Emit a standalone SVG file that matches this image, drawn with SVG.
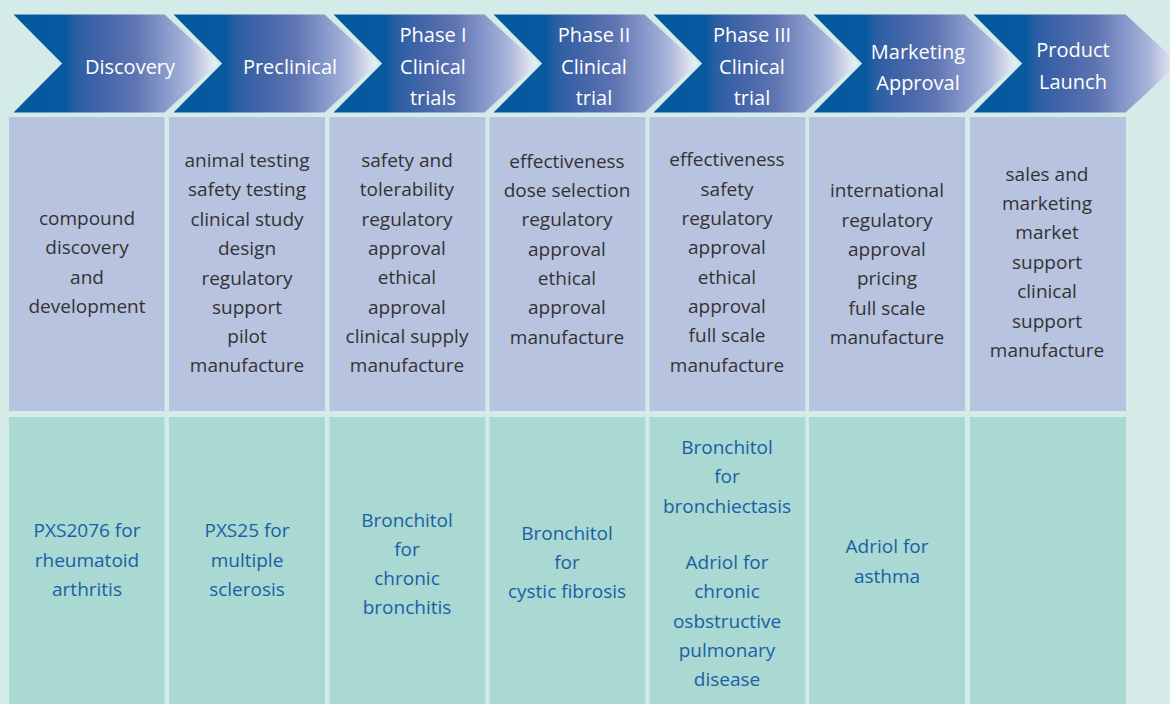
<svg xmlns="http://www.w3.org/2000/svg" width="1170" height="704" viewBox="0 0 1170 704">
<defs>
<linearGradient id="chev" x1="0" y1="0" x2="1" y2="0">
<stop offset="0" stop-color="#02589e"/>
<stop offset="0.27" stop-color="#0a5aa0"/>
<stop offset="0.31" stop-color="#2a5ea4"/>
<stop offset="0.45" stop-color="#4566a8"/>
<stop offset="0.6" stop-color="#5f75b2"/>
<stop offset="0.72" stop-color="#8294c8"/>
<stop offset="0.85" stop-color="#aab5da"/>
<stop offset="0.95" stop-color="#dfe1f2"/>
<stop offset="1" stop-color="#f4f4fb"/>
</linearGradient>
<style>
.chev{fill:url(#chev);stroke:#d5ebe8;stroke-width:3;stroke-linejoin:miter}
.task{fill:#b8c3e0}
.prod{fill:#aad8d3}
.h{font-family:"Open Sans","Noto Sans",sans-serif;font-size:20px;fill:#ffffff;text-anchor:middle}
.t{font-family:"Open Sans","Noto Sans",sans-serif;font-size:19px;fill:#333333;text-anchor:middle}
.p{font-family:"Open Sans","Noto Sans",sans-serif;font-size:19px;fill:#1a5fa5;text-anchor:middle}
</style>
</defs>
<rect x="0" y="0" width="1170" height="704" fill="#d5ebe8"/>

<g id="stage-discovery">
<polygon class="chev" points="10,13 165,13 220,63.5 165,114 10,114 60,63.5"/>
<text class="h" x="130" y="74">Discovery</text>
</g>
<g id="stage-preclinical">
<polygon class="chev" points="170,13 325,13 380,63.5 325,114 170,114 220,63.5"/>
<text class="h" x="290" y="74">Preclinical</text>
</g>
<g id="stage-phase1">
<polygon class="chev" points="330,13 485,13 540,63.5 485,114 330,114 380,63.5"/>
<text class="h" x="433" y="42">Phase I</text>
<text class="h" x="433" y="74">Clinical</text>
<text class="h" x="433" y="105">trials</text>
</g>
<g id="stage-phase2">
<polygon class="chev" points="490,13 645,13 700,63.5 645,114 490,114 540,63.5"/>
<text class="h" x="594" y="42">Phase II</text>
<text class="h" x="594" y="74">Clinical</text>
<text class="h" x="594" y="105">trial</text>
</g>
<g id="stage-phase3">
<polygon class="chev" points="650,13 805,13 860,63.5 805,114 650,114 700,63.5"/>
<text class="h" x="752" y="42">Phase III</text>
<text class="h" x="752" y="74">Clinical</text>
<text class="h" x="752" y="105">trial</text>
</g>
<g id="stage-marketing">
<polygon class="chev" points="810,13 965,13 1020,63.5 965,114 810,114 860,63.5"/>
<text class="h" x="918" y="59">Marketing</text>
<text class="h" x="918" y="90">Approval</text>
</g>
<g id="stage-launch">
<polygon class="chev" points="970,13 1126,13 1181,63.5 1126,114 970,114 1020,63.5"/>
<text class="h" x="1073" y="57">Product</text>
<text class="h" x="1073" y="89">Launch</text>
</g>

<g id="tasks-discovery">
<rect class="task" x="9" y="117" width="155.5" height="294"/>
<text class="t" x="87" y="225">compound</text>
<text class="t" x="87" y="254">discovery</text>
<text class="t" x="87" y="284">and</text>
<text class="t" x="87" y="313">development</text>
</g>
<g id="tasks-preclinical">
<rect class="task" x="169" y="117" width="156" height="294"/>
<text class="t" x="247" y="167">animal testing</text>
<text class="t" x="247" y="196">safety testing</text>
<text class="t" x="247" y="226">clinical study</text>
<text class="t" x="247" y="255">design</text>
<text class="t" x="247" y="285">regulatory</text>
<text class="t" x="247" y="314">support</text>
<text class="t" x="247" y="343">pilot</text>
<text class="t" x="247" y="372">manufacture</text>
</g>
<g id="tasks-phase1">
<rect class="task" x="329.5" y="117" width="156" height="294"/>
<text class="t" x="407" y="167">safety and</text>
<text class="t" x="407" y="196">tolerability</text>
<text class="t" x="407" y="226">regulatory</text>
<text class="t" x="407" y="255">approval</text>
<text class="t" x="407" y="284">ethical</text>
<text class="t" x="407" y="314">approval</text>
<text class="t" x="407" y="343">clinical supply</text>
<text class="t" x="407" y="372">manufacture</text>
</g>
<g id="tasks-phase2">
<rect class="task" x="489.5" y="117" width="156" height="294"/>
<text class="t" x="567" y="168">effectiveness</text>
<text class="t" x="567" y="197">dose selection</text>
<text class="t" x="567" y="226">regulatory</text>
<text class="t" x="567" y="256">approval</text>
<text class="t" x="567" y="285">ethical</text>
<text class="t" x="567" y="314">approval</text>
<text class="t" x="567" y="344">manufacture</text>
</g>
<g id="tasks-phase3">
<rect class="task" x="649.5" y="117" width="156" height="294"/>
<text class="t" x="727" y="166">effectiveness</text>
<text class="t" x="727" y="196">safety</text>
<text class="t" x="727" y="225">regulatory</text>
<text class="t" x="727" y="254">approval</text>
<text class="t" x="727" y="284">ethical</text>
<text class="t" x="727" y="313">approval</text>
<text class="t" x="727" y="342">full scale</text>
<text class="t" x="727" y="372">manufacture</text>
</g>
<g id="tasks-marketing">
<rect class="task" x="809" y="117" width="156" height="294"/>
<text class="t" x="887" y="197">international</text>
<text class="t" x="887" y="227">regulatory</text>
<text class="t" x="887" y="256">approval</text>
<text class="t" x="887" y="285">pricing</text>
<text class="t" x="887" y="315">full scale</text>
<text class="t" x="887" y="344">manufacture</text>
</g>
<g id="tasks-launch">
<rect class="task" x="970" y="117" width="156" height="294"/>
<text class="t" x="1047" y="181">sales and</text>
<text class="t" x="1047" y="210">marketing</text>
<text class="t" x="1047" y="239">market</text>
<text class="t" x="1047" y="269">support</text>
<text class="t" x="1047" y="298">clinical</text>
<text class="t" x="1047" y="328">support</text>
<text class="t" x="1047" y="357">manufacture</text>
</g>

<g id="products-discovery">
<rect class="prod" x="9" y="417" width="155.5" height="287"/>
<text class="p" x="87" y="537">PXS2076 for</text>
<text class="p" x="87" y="567">rheumatoid</text>
<text class="p" x="87" y="596">arthritis</text>
</g>
<g id="products-preclinical">
<rect class="prod" x="169" y="417" width="156" height="287"/>
<text class="p" x="247" y="537">PXS25 for</text>
<text class="p" x="247" y="567">multiple</text>
<text class="p" x="247" y="596">sclerosis</text>
</g>
<g id="products-phase1">
<rect class="prod" x="329.5" y="417" width="156" height="287"/>
<text class="p" x="407" y="527">Bronchitol</text>
<text class="p" x="407" y="556">for</text>
<text class="p" x="407" y="585">chronic</text>
<text class="p" x="407" y="614">bronchitis</text>
</g>
<g id="products-phase2">
<rect class="prod" x="489.5" y="417" width="156" height="287"/>
<text class="p" x="567" y="540">Bronchitol</text>
<text class="p" x="567" y="569">for</text>
<text class="p" x="567" y="598">cystic fibrosis</text>
</g>
<g id="products-phase3">
<rect class="prod" x="649.5" y="417" width="156" height="287"/>
<text class="p" x="727" y="454">Bronchitol</text>
<text class="p" x="727" y="483">for</text>
<text class="p" x="727" y="513">bronchiectasis</text>
<text class="p" x="727" y="569">Adriol for</text>
<text class="p" x="727" y="598">chronic</text>
<text class="p" x="727" y="628">osbstructive</text>
<text class="p" x="727" y="657">pulmonary</text>
<text class="p" x="727" y="686">disease</text>
</g>
<g id="products-marketing">
<rect class="prod" x="809" y="417" width="156" height="287"/>
<text class="p" x="887" y="553">Adriol for</text>
<text class="p" x="887" y="583">asthma</text>
</g>
<g id="products-launch">
<rect class="prod" x="970" y="417" width="156" height="287"/>
</g>
</svg>
